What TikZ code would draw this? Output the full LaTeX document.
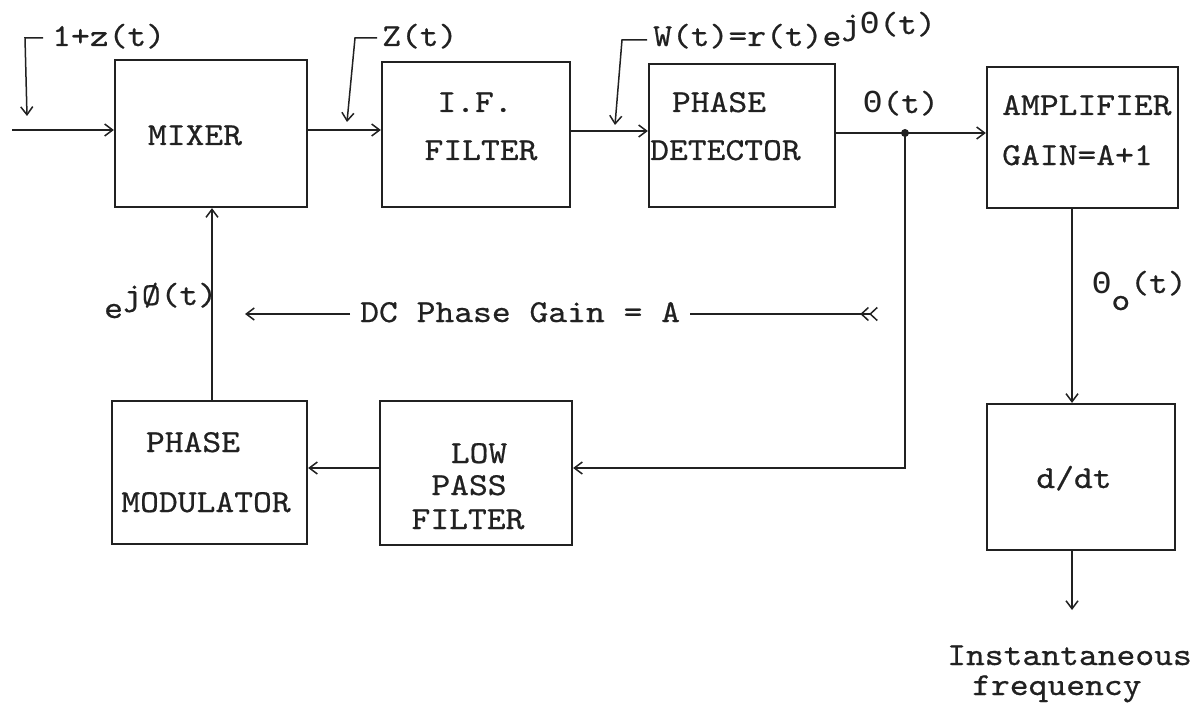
\documentclass[tikz,border=0pt]{standalone}
\usepackage{fontspec}
\usetikzlibrary{arrows.meta}
\newfontfamily\tw{lmmono10-regular.otf}[FakeStretch=1.12,FakeBold=0.6]
\newfontfamily\tg{Liberation Mono}
\newcommand\THT{{\tg Θ}}
\definecolor{ink}{rgb}{0.13,0.13,0.13}
\tikzset{
 blk/.style={draw=ink, line width=2.2pt, inner sep=0pt},
 conn/.style={draw=ink, line width=1.5pt},
 arr/.style={conn, -{Straight Barb[length=8pt,width=12pt,line width=1.5pt]}},
 fletch/.style={conn, -{Straight Barb[reversed,length=7pt,width=13pt,line width=1.5pt] Straight Barb[reversed,length=7pt,width=13pt,line width=1.5pt]}},
 txt/.style={text=ink, font=\tw\fontsize{32}{36}\selectfont, inner sep=0pt},
}
\begin{document}
\begin{tikzpicture}[x=1pt,y=-1pt]
\useasboundingbox[fill=white] (0,0) rectangle (1194,706);
% blocks
\node[blk, minimum width=192pt, minimum height=147pt] (mix) at (211,133.5) {};
\node[blk, minimum width=188pt, minimum height=145pt] (iff) at (476,134.5) {};
\node[blk, minimum width=186pt, minimum height=143pt] (pd) at (742,135.5) {};
\node[blk, minimum width=191pt, minimum height=141pt] (amp) at (1082.5,137.5) {};
\node[blk, minimum width=195pt, minimum height=143pt] (pm) at (209.5,472.5) {};
\node[blk, minimum width=192pt, minimum height=144pt] (lpf) at (476,473) {};
\node[blk, minimum width=188pt, minimum height=146pt] (ddt) at (1081,477) {};
% block texts
\node[txt, anchor=base] (tmix) at (195,145) {MIXER};
\node[txt, anchor=base] (tif1) at (475,112) {I.F.};
\node[txt, anchor=base] (tif2) at (481,160) {FILTER};
\node[txt, anchor=base] (tpd1) at (719,112) {PHASE};
\node[txt, anchor=base west] (tpd2) at (650,160) {DETECTOR};
\node[txt, anchor=base west] (ta1) at (1002,115) {AMPLIFIER};
\node[txt, anchor=base west] (ta2) at (1002,165) {GAIN=A+1};
\node[txt, anchor=base] (tpm1) at (193,452) {PHASE};
\node[txt, anchor=base] (tpm2) at (206,512) {MODULATOR};
\node[txt, anchor=base] (tlp1) at (479,463) {LOW};
\node[txt, anchor=base] (tlp2) at (469,495) {PASS};
\node[txt, anchor=base] (tlp3) at (468,529) {FILTER};
\node[txt, anchor=base] (tdd) at (1074,488) {d/dt};
% signal labels
\node[txt, anchor=base west] (l1) at (52,46) {1+z(t)};
\node[txt, anchor=base west] (l2) at (382,46) {Z(t)};
\node[txt, anchor=base west] (l3) at (653,46) {W(t)=r(t)e\raisebox{12pt}{j\THT(t)}};
\node[txt, anchor=base] (lth) at (901,113) {\THT(t)};
\node[txt, anchor=base west] (ltho) at (1092,293) {\THT\raisebox{-17pt}{o}(t)};
\node[txt, anchor=base west] (lphi) at (104,318) {e\raisebox{13pt}{jØ(t)}};
\node[txt, anchor=base west, inner xsep=10pt] (dc) at (350,322) {DC Phase Gain = A};
\node[txt, anchor=base west] (lout1) at (947,665) {Instantaneous};
\node[txt, anchor=base west] (lout2) at (972,695) {frequency};
% coordinates
\coordinate (in) at (12,130);
\coordinate (r1) at (0,130);
\coordinate (r2) at (0,131);
\coordinate (r3) at (0,133);
\node[circle, fill=ink, inner sep=0pt, minimum size=8pt] (jd) at (905,133) {};
\coordinate (fb) at (905,468);
\coordinate (vpm) at (212,0);
\coordinate (vamp) at (1072,0);
\coordinate (out) at (1072,610);
\coordinate (h1a) at (43,38);
\coordinate (h1b) at (25,38);
\coordinate (h1c) at (27,116);
\coordinate (h2a) at (377,38);
\coordinate (h2b) at (355,38);
\coordinate (h2c) at (347,122);
\coordinate (h3a) at (647,40);
\coordinate (h3b) at (622,40);
\coordinate (h3c) at (615,125);
\coordinate (dcl) at (245,314);
\coordinate (dcr) at (878,314);
% main path
\draw[arr] (in) -- (in -| mix.west);
\draw[arr] (mix.east |- r1) -- (iff.west |- r1);
\draw[arr] (iff.east |- r2) -- (pd.west |- r2);
\draw[conn] (pd.east |- r3) -- (jd.center);
\draw[arr] (jd.center) -- (amp.west |- r3);
% feedback
\draw[arr] (jd.center) -- (fb) -- (lpf.east |- fb);
\draw[arr] (lpf.west |- fb) -- (pm.east |- fb);
\draw[arr] (pm.north -| vpm) -- (mix.south -| vpm);
% output
\draw[arr] (amp.south -| vamp) -- (ddt.north -| vamp);
\draw[arr] (ddt.south -| out) -- (out);
% label hooks
\draw[arr] (h1a) -- (h1b) -- (h1c);
\draw[arr] (h2a) -- (h2b) -- (h2c);
\draw[arr] (h3a) -- (h3b) -- (h3c);
% DC phase gain
\draw[arr] (dc.west |- dcl) -- (dcl);
\draw[fletch] (dc.east |- dcr) -- (dcr);
\end{tikzpicture}
\end{document}
